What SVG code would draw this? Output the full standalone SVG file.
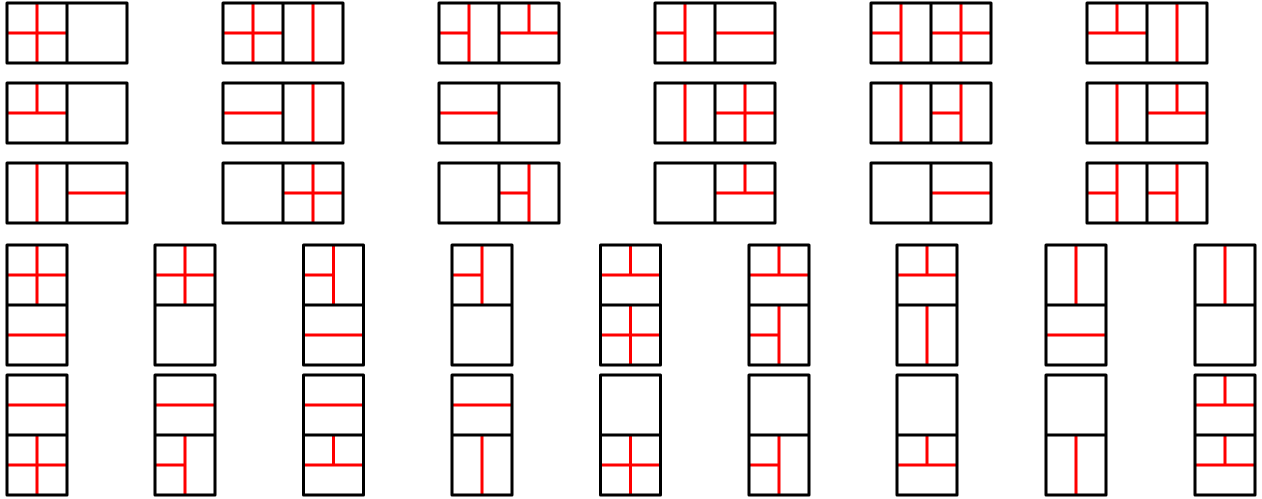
<svg xmlns="http://www.w3.org/2000/svg" xmlns:xlink="http://www.w3.org/1999/xlink" width="1262" height="499" viewBox="0 0 1262 499">
<style>
.r{stroke:#ff0000;stroke-width:3;fill:none;stroke-linecap:butt}
.k{stroke:#000000;stroke-width:3;fill:none;stroke-linejoin:round}
</style>
<defs>
<path id="vf" class="r" d="M30,0V60"/>
<path id="hf" class="r" d="M0,30H60"/>
<path id="vh" class="r" d="M30,0V30"/>
<path id="hh" class="r" d="M0,30H30"/>
<path id="fh" class="k" d="M0,0H120V60H0Z M60,0V60"/>
<path id="fv" class="k" d="M0,0H60V120H0Z M0,60H60"/>
</defs>
<rect width="1262" height="499" fill="#ffffff"/>
<g id="connectors"></g>
<!-- Row 1 -->
<g id="h1-1" transform="translate(7,3)"><use href="#vf"/><use href="#hf"/><use href="#fh"/></g>
<g id="h1-2" transform="translate(223,3)"><use href="#vf"/><use href="#hf"/><use href="#vf" x="60"/><use href="#fh"/></g>
<g id="h1-3" transform="translate(439,3)"><use href="#vf"/><use href="#hh"/><use href="#hf" x="60"/><use href="#vh" x="60"/><use href="#fh"/></g>
<g id="h1-4" transform="translate(655,3)"><use href="#vf"/><use href="#hh"/><use href="#hf" x="60"/><use href="#fh"/></g>
<g id="h1-5" transform="translate(871,3)"><use href="#vf"/><use href="#hh"/><use href="#vf" x="60"/><use href="#hf" x="60"/><use href="#fh"/></g>
<g id="h1-6" transform="translate(1087,3)"><use href="#hf"/><use href="#vh"/><use href="#vf" x="60"/><use href="#fh"/></g>
<!-- Row 2 -->
<g id="h2-1" transform="translate(7,83)"><use href="#hf"/><use href="#vh"/><use href="#fh"/></g>
<g id="h2-2" transform="translate(223,83)"><use href="#hf"/><use href="#vf" x="60"/><use href="#fh"/></g>
<g id="h2-3" transform="translate(439,83)"><use href="#hf"/><use href="#fh"/></g>
<g id="h2-4" transform="translate(655,83)"><use href="#vf"/><use href="#vf" x="60"/><use href="#hf" x="60"/><use href="#fh"/></g>
<g id="h2-5" transform="translate(871,83)"><use href="#vf"/><use href="#vf" x="60"/><use href="#hh" x="60"/><use href="#fh"/></g>
<g id="h2-6" transform="translate(1087,83)"><use href="#vf"/><use href="#hf" x="60"/><use href="#vh" x="60"/><use href="#fh"/></g>
<!-- Row 3 -->
<g id="h3-1" transform="translate(7,163)"><use href="#vf"/><use href="#hf" x="60"/><use href="#fh"/></g>
<g id="h3-2" transform="translate(223,163)"><use href="#vf" x="60"/><use href="#hf" x="60"/><use href="#fh"/></g>
<g id="h3-3" transform="translate(439,163)"><use href="#vf" x="60"/><use href="#hh" x="60"/><use href="#fh"/></g>
<g id="h3-4" transform="translate(655,163)"><use href="#hf" x="60"/><use href="#vh" x="60"/><use href="#fh"/></g>
<g id="h3-5" transform="translate(871,163)"><use href="#hf" x="60"/><use href="#fh"/></g>
<g id="h3-6" transform="translate(1087,163)"><use href="#vf"/><use href="#hh"/><use href="#vf" x="60"/><use href="#hh" x="60"/><use href="#fh"/></g>
<!-- Row 4 -->
<g id="v4-1" transform="translate(7,245)"><use href="#vf"/><use href="#hf"/><use href="#hf" y="60"/><use href="#fv"/></g>
<g id="v4-2" transform="translate(155,245)"><use href="#vf"/><use href="#hf"/><use href="#fv"/></g>
<g id="v4-3" transform="translate(303.5,245)"><use href="#vf"/><use href="#hh"/><use href="#hf" y="60"/><use href="#fv"/></g>
<g id="v4-4" transform="translate(452,245)"><use href="#vf"/><use href="#hh"/><use href="#fv"/></g>
<g id="v4-5" transform="translate(600.5,245)"><use href="#hf"/><use href="#vh"/><use href="#vf" y="60"/><use href="#hf" y="60"/><use href="#fv"/></g>
<g id="v4-6" transform="translate(749,245)"><use href="#hf"/><use href="#vh"/><use href="#vf" y="60"/><use href="#hh" y="60"/><use href="#fv"/></g>
<g id="v4-7" transform="translate(897,245)"><use href="#hf"/><use href="#vh"/><use href="#vf" y="60"/><use href="#fv"/></g>
<g id="v4-8" transform="translate(1046,245)"><use href="#vf"/><use href="#hf" y="60"/><use href="#fv"/></g>
<g id="v4-9" transform="translate(1195,245)"><use href="#vf"/><use href="#fv"/></g>
<!-- Row 5 -->
<g id="v5-1" transform="translate(7,375)"><use href="#hf"/><use href="#vf" y="60"/><use href="#hf" y="60"/><use href="#fv"/></g>
<g id="v5-2" transform="translate(155,375)"><use href="#hf"/><use href="#vf" y="60"/><use href="#hh" y="60"/><use href="#fv"/></g>
<g id="v5-3" transform="translate(303.5,375)"><use href="#hf"/><use href="#hf" y="60"/><use href="#vh" y="60"/><use href="#fv"/></g>
<g id="v5-4" transform="translate(452,375)"><use href="#hf"/><use href="#vf" y="60"/><use href="#fv"/></g>
<g id="v5-5" transform="translate(600.5,375)"><use href="#vf" y="60"/><use href="#hf" y="60"/><use href="#fv"/></g>
<g id="v5-6" transform="translate(749,375)"><use href="#vf" y="60"/><use href="#hh" y="60"/><use href="#fv"/></g>
<g id="v5-7" transform="translate(897,375)"><use href="#hf" y="60"/><use href="#vh" y="60"/><use href="#fv"/></g>
<g id="v5-8" transform="translate(1046,375)"><use href="#vf" y="60"/><use href="#fv"/></g>
<g id="v5-9" transform="translate(1195,375)"><use href="#hf"/><use href="#vh"/><use href="#hf" y="60"/><use href="#vh" y="60"/><use href="#fv"/></g>
</svg>
